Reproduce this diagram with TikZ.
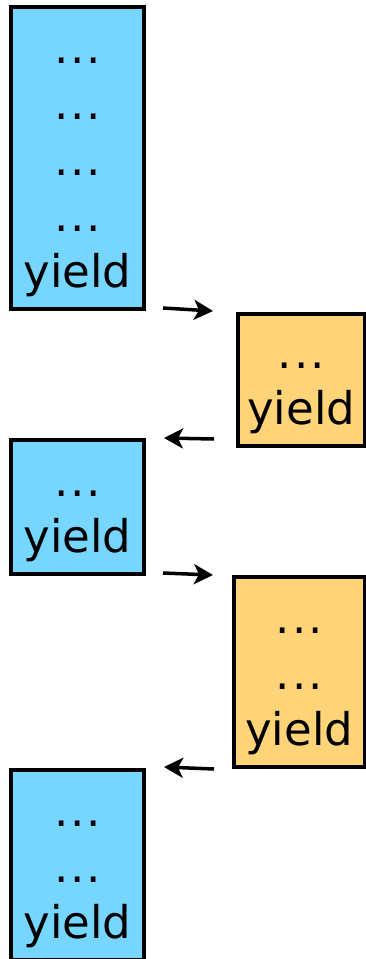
\documentclass[tikz,border=0pt]{standalone}
\usepackage{fontspec}
\setmainfont{DejaVu Sans}
\usetikzlibrary{arrows.meta}
\definecolor{sky}{HTML}{76D6FF}
\definecolor{cantaloupe}{HTML}{FFD479}
\newcommand{\mydots}{.\kern2pt.\kern2pt.}
\begin{document}
\begin{tikzpicture}[x=1pt,y=-1pt,
  box/.style={draw=black, line width=3.5pt, outer sep=0pt, inner sep=0pt, anchor=north west},
  bluebox/.style={box, fill=sky},
  orangebox/.style={box, fill=cantaloupe},
  txt/.style={anchor=base, inner sep=0pt, font=\fontsize{45}{54}\selectfont},
  conn/.style={line width=3.5pt, -{Stealth[length=19pt, width=20pt, inset=5pt]}}]
\useasboundingbox (0,0) rectangle (366,959);
% boxes
\node[bluebox, minimum width=133pt, minimum height=302pt] (b1) at (11,7) {};
\node[orangebox, minimum width=126.5pt, minimum height=132pt] (b2) at (238,314) {};
\node[bluebox, minimum width=133pt, minimum height=134pt] (b3) at (11,440) {};
\node[orangebox, minimum width=130.5pt, minimum height=190pt] (b4) at (234,577) {};
\node[bluebox, minimum width=133pt, minimum height=190pt] (b5) at (11,770) {};
% texts
\node[txt] (b1a) at (77.5,63) {\mydots};
\node[txt] (b1b) at (77.5,119) {\mydots};
\node[txt] (b1c) at (77.5,175) {\mydots};
\node[txt] (b1d) at (77.5,231) {\mydots};
\node[txt] (b1e) at (77.5,287) {yield};
\node[txt] (b2a) at (301.25,368) {\mydots};
\node[txt] (b2b) at (301.25,424) {yield};
\node[txt] (b3a) at (77.5,496) {\mydots};
\node[txt] (b3b) at (77.5,552) {yield};
\node[txt] (b4a) at (299.25,633) {\mydots};
\node[txt] (b4b) at (299.25,689) {\mydots};
\node[txt] (b4c) at (299.25,745) {yield};
\node[txt] (b5a) at (77.5,826) {\mydots};
\node[txt] (b5b) at (77.5,882) {\mydots};
\node[txt] (b5c) at (77.5,938) {yield};
% connectors
\draw[conn] ([xshift=19pt,yshift=1pt]b1.south east) -- ([xshift=-25pt,yshift=3pt]b2.north west);
\draw[conn] ([xshift=-24pt,yshift=7pt]b2.south west) -- ([xshift=20pt,yshift=2pt]b3.north east);
\draw[conn] ([xshift=19pt,yshift=1pt]b3.south east) -- ([xshift=-21pt,yshift=2pt]b4.north west);
\draw[conn] ([xshift=-20pt,yshift=-2pt]b4.south west) -- ([xshift=20pt,yshift=3pt]b5.north east);
\end{tikzpicture}
\end{document}
